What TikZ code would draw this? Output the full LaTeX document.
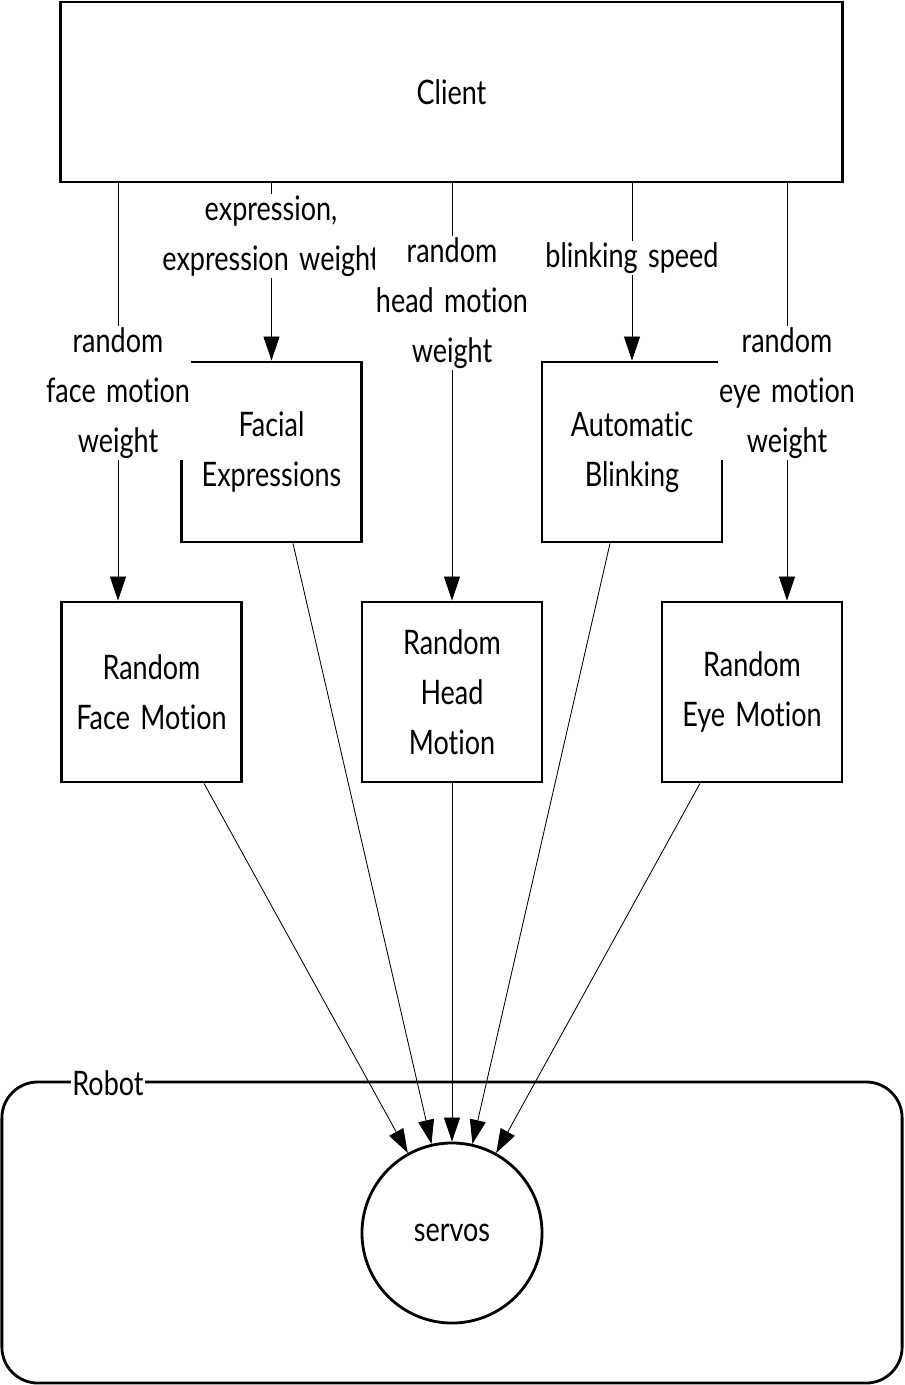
\documentclass[tikz,border=0pt]{standalone}
\usepackage{fontspec}
\setmainfont{Lato}[FakeStretch=0.8, Ligatures=NoCommon, WordSpace=1.5]
\usetikzlibrary{positioning,arrows.meta,calc}

\begin{document}
\begin{tikzpicture}[x=0.025cm, y=-0.025cm,
  font=\fontsize{24}{35.6}\selectfont,
  box/.style={draw, line width=2pt, align=center, inner sep=0pt, minimum width=4.5cm, minimum height=4.5cm},
  lbl/.style={fill=white, align=center, inner sep=1pt},
  link/.style={line width=0.6pt, -{Triangle[length=0.6cm, width=0.4cm]}}]
\useasboundingbox (0,0) rectangle (904,1385);
% boxes
\node[box, minimum width=19.525cm] (client) at (451.5,92) {Client};
\node[box] (fe) at (271.5,452) {Facial\\Expressions};
\node[box] (ab) at (632,452) {Automatic\\Blinking};
\node[box] (rfm) at (151.5,692) {Random\\Face Motion};
\node[box] (rhm) at (452,692) {Random\\Head\\Motion};
\node[box] (rem) at (752,692) {Random\\Eye Motion};
\node[draw, line width=2pt, rounded corners=0.9cm, minimum width=22.5cm, minimum height=7.525cm] (robot) at (452,1232.5) {};
\node[draw, circle, line width=2pt, minimum size=4.5cm] (servos) at (452,1233) {servos};
% label positions
\coordinate (xfm) at (118,0);
\coordinate (xem) at (787,0);
% client to components
\draw[link] (client.south -| xfm) -- (rfm.north -| xfm);
\draw[link] (client.south -| fe) -- (fe.north);
\draw[link] (client.south -| rhm) -- (rhm.north);
\draw[link] (client.south -| ab) -- (ab.north);
\draw[link] (client.south -| xem) -- (rem.north -| xem);
% components to servos
\foreach \s/\dx in {rfm/52.5, fe/21.5, rhm/0, ab/-22, rem/-52}
  \draw[link] ($(\s.south)+(\dx,0)$) -- (servos);
% labels
\node[lbl] (lfm) at (118,393) {random\\face motion\\weight};
\node[lbl] (lfe) at (271,236) {expression,\\expression weight};
\node[lbl] (lhm) at (452,303) {random\\head motion\\weight};
\node[lbl] (lab) at (632,258) {blinking speed};
\node[lbl] (lem) at (787,393) {random\\eye motion\\weight};
\node[lbl] (lrobot) at (108,1083) {Robot};
\end{tikzpicture}
\end{document}
